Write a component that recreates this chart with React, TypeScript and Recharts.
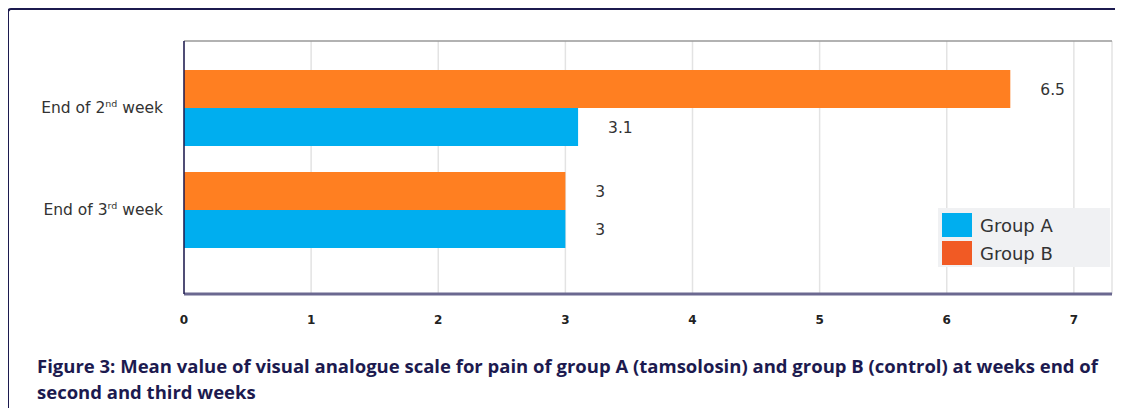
import React from "react";
import {
  BarChart,
  Bar,
  XAxis,
  YAxis,
  CartesianGrid,
  LabelList,
} from "recharts";

// values
const weeks = ["End of 2nd week", "End of 3rd week"];
const groupA = [3.1, 3];
const groupB = [6.5, 3];
const xTicks = [0, 1, 2, 3, 4, 5, 6, 7];

const data = weeks.map((w, i) => ({ week: w, a: groupA[i], b: groupB[i] }));

const NAVY = "#1c1a4f";
const BLUE = "#00aeef";
const ORANGE = "#ff7f21";
const LEGEND_ORANGE = "#f15a24";
const FONT = "DejaVu Sans, Verdana, sans-serif";

const WeekTick = (props: any) => {
  const { x, y, payload } = props;
  const m = String(payload.value).match(/^(.*\d)(st|nd|rd|th)(.*)$/);
  return (
    <text
      x={x}
      y={y}
      textAnchor="end"
      dominantBaseline="central"
      fontFamily={FONT}
      fontSize={15.5}
      fill="#333"
    >
      {m ? (
        <>
          <tspan>{m[1]}</tspan>
          <tspan fontSize={9.5} dy={-5}>
            {m[2]}
          </tspan>
          <tspan dy={5}>{m[3]}</tspan>
        </>
      ) : (
        payload.value
      )}
    </text>
  );
};

const legendItems = [
  { name: "Group A", color: BLUE },
  { name: "Group B", color: LEGEND_ORANGE },
];

const LegendBox = () => (
  <div
    style={{
      position: "absolute",
      left: 930,
      top: 200,
      background: "#f0f1f3",
      width: 172,
      height: 59,
      boxSizing: "border-box",
      padding: "4px 0 0 4px",
      fontFamily: FONT,
      fontSize: 18,
      color: "#333",
    }}
  >
    {legendItems.map((it) => (
      <div
        key={it.name}
        style={{ display: "flex", alignItems: "center", height: 26, marginBottom: 2 }}
      >
        <span
          style={{ width: 30, height: 24, background: it.color, marginRight: 8 }}
        />
        <span>{it.name}</span>
      </div>
    ))}
  </div>
);

export default function App() {
  return (
    <div style={{ position: "relative", width: 1115, height: 400 }}>
      <div
        style={{
          position: "absolute",
          left: -1,
          top: 0,
          width: 1130,
          height: 410,
          borderLeft: `2px solid ${NAVY}`,
          borderTop: `2px solid ${NAVY}`,
          borderTopLeftRadius: 4,
          boxSizing: "border-box",
        }}
      />
      <div style={{ position: "absolute", left: 0, top: 0 }}>
        <BarChart
          width={1115}
          height={330}
          data={data}
          layout="vertical"
          margin={{ top: 32, right: 11, bottom: 0, left: 0 }}
          barSize={38}
          barGap={0}
        >
          <CartesianGrid horizontal={false} stroke="#e3e3e3" strokeWidth={1.5} />
          <XAxis
            type="number"
            domain={[0, 7.3]}
            ticks={xTicks}
            height={44}
            axisLine={{ stroke: "#6b6890", strokeWidth: 3 }}
            tickLine={false}
            tickSize={6}
            tickMargin={15}
            tick={{ fill: "#222", fontSize: 12, fontWeight: 700, fontFamily: FONT }}
          />
          <XAxis
            xAxisId="top"
            orientation="top"
            type="number"
            domain={[0, 7.3]}
            height={1}
            axisLine={{ stroke: "#999", strokeWidth: 1.5 }}
            tick={false}
            tickLine={false}
          />
          <YAxis
            type="category"
            dataKey="week"
            width={176}
            padding={{ top: 16, bottom: 33 }}
            axisLine={{ stroke: NAVY, strokeWidth: 1.5 }}
            tickLine={false}
            tickSize={0}
            tickMargin={21}
            tick={<WeekTick />}
          />
          <Bar dataKey="b" name="Group B" fill={ORANGE} isAnimationActive={false}>
            <LabelList
              dataKey="b"
              position="right"
              offset={30}
              fill="#333"
              fontSize={15.5}
              fontFamily={FONT}
            />
          </Bar>
          <Bar dataKey="a" name="Group A" fill={BLUE} isAnimationActive={false}>
            <LabelList
              dataKey="a"
              position="right"
              offset={30}
              fill="#333"
              fontSize={15.5}
              fontFamily={FONT}
            />
          </Bar>
        </BarChart>
      </div>
      <LegendBox />
      <div
        style={{
          position: "absolute",
          left: 29,
          top: 345,
          color: NAVY,
          fontFamily: "'Open Sans', sans-serif",
          fontWeight: 700,
          fontSize: 18.5,
          lineHeight: "26px",
          whiteSpace: "nowrap",
        }}
      >
        Figure 3: Mean value of visual analogue scale for pain of group A (tamsolosin) and group B
        (control) at weeks end of
        <br />
        second and third weeks
      </div>
    </div>
  );
}
